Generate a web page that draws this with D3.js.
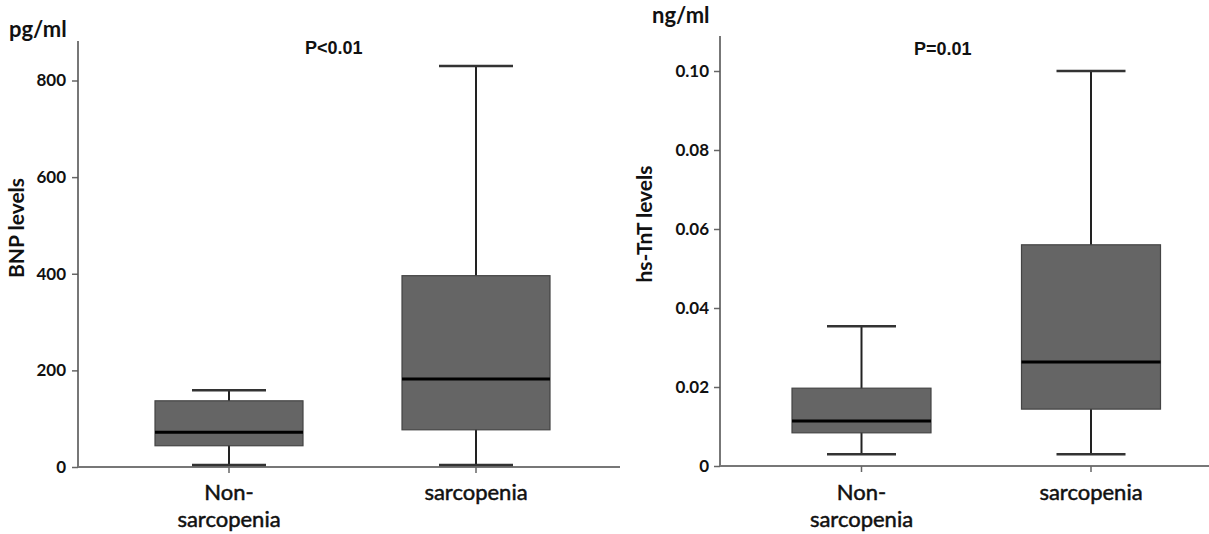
<!DOCTYPE html>
<html>
<head>
<meta charset="utf-8">
<script src="https://cdn.jsdelivr.net/npm/d3@7"></script>
<style>
  body { margin: 0; background: #fff; }
  svg { display: block; }
  .tick text { font-family: Lato, sans-serif; font-weight: bold; font-size: 17px; fill: #111; }
</style>
</head>
<body>
<svg id="chart" width="1209" height="534"></svg>
<script>
// categories shared by both panels
var categories = ["Non-sarcopenia", "sarcopenia"];

// BNP (pg/ml) box stats
var bnpMin    = [4, 4];
var bnpQ1     = [44, 77];
var bnpMedian = [72, 182];
var bnpQ3     = [137, 396];
var bnpMax    = [159, 830];
var bnpTicks  = [0, 200, 400, 600, 800];

// hs-TnT (ng/ml) box stats
var tntMin    = [0.003, 0.003];
var tntQ1     = [0.0084, 0.0144];
var tntMedian = [0.0114, 0.0263];
var tntQ3     = [0.0197, 0.056];
var tntMax    = [0.0354, 0.100];
var tntTicks  = [0, 0.02, 0.04, 0.06, 0.08, 0.10];

var svg = d3.select("#chart");

var drawPanel = function(cfg)
{
  var g = svg.append("g");

  var y = d3.scaleLinear().domain(cfg.domain).range([cfg.bottom, cfg.top]);
  var x = d3.scalePoint().domain(categories).range(cfg.centers);

  var rows = categories.map(function(c, i){
    return {cat: c, lo: cfg.min[i], q1: cfg.q1[i], med: cfg.median[i], q3: cfg.q3[i], hi: cfg.max[i]};
  });

  // y axis
  var yAxis = d3.axisLeft(y)
    .tickValues(cfg.ticks)
    .tickSize(6)
    .tickPadding(cfg.tickPad)
    .tickFormat(cfg.fmt);
  var ya = g.append("g")
    .attr("transform", "translate(" + cfg.axisX + ",0)")
    .call(yAxis);
  ya.select(".domain").remove();
  ya.selectAll(".tick line").attr("stroke", "#666").attr("stroke-width", 1.5);
  ya.append("line")
    .attr("x1", 0).attr("x2", 0)
    .attr("y1", cfg.axisTop).attr("y2", cfg.bottom)
    .attr("stroke", "#555").attr("stroke-width", 1.6);

  // x axis line and ticks
  g.append("line")
    .attr("x1", cfg.axisX).attr("x2", cfg.axisEnd)
    .attr("y1", cfg.bottom).attr("y2", cfg.bottom)
    .attr("stroke", "#777").attr("stroke-width", 2);
  g.selectAll(".xtick")
    .data(categories)
    .enter()
    .append("line")
    .attr("x1", function(d){return x(d);})
    .attr("x2", function(d){return x(d);})
    .attr("y1", cfg.bottom)
    .attr("y2", cfg.bottom + 6)
    .attr("stroke", "#666").attr("stroke-width", 1.5);

  // category labels
  var lab = g.selectAll(".xlab")
    .data(categories)
    .enter()
    .append("text")
    .attr("text-anchor", "middle")
    .attr("font-family", "Lato, sans-serif")
    .attr("font-size", 22)
    .attr("fill", "#111")
    .attr("stroke", "#111")
    .attr("stroke-width", 0.5);
  lab.each(function(d){
    var lines = d === "Non-sarcopenia" ? ["Non-", "sarcopenia"] : [d];
    var t = d3.select(this);
    lines.forEach(function(l, k){
      t.append("tspan")
        .attr("x", x(d))
        .attr("y", 500 + k * 27)
        .text(l);
    });
  });

  // whiskers
  g.selectAll(".whisk")
    .data(rows)
    .enter()
    .append("line")
    .attr("x1", function(d){return x(d.cat);})
    .attr("x2", function(d){return x(d.cat);})
    .attr("y1", function(d){return y(d.lo);})
    .attr("y2", function(d){return y(d.hi);})
    .attr("stroke", "#222").attr("stroke-width", 2);

  // caps
  ["lo", "hi"].forEach(function(k){
    g.selectAll(".cap" + k)
      .data(rows)
      .enter()
      .append("line")
      .attr("x1", function(d){return x(d.cat) - cfg.capHalf;})
      .attr("x2", function(d){return x(d.cat) + cfg.capHalf;})
      .attr("y1", function(d){return y(d[k]);})
      .attr("y2", function(d){return y(d[k]);})
      .attr("stroke", "#333").attr("stroke-width", 2.5);
  });

  // boxes
  g.selectAll(".box")
    .data(rows)
    .enter()
    .append("rect")
    .attr("x", function(d){return x(d.cat) - cfg.boxHalf;})
    .attr("y", function(d){return y(d.q3);})
    .attr("width", cfg.boxHalf * 2)
    .attr("height", function(d){return y(d.q1) - y(d.q3);})
    .attr("fill", "#656565")
    .attr("stroke", "#444").attr("stroke-width", 1.2);

  // medians
  g.selectAll(".med")
    .data(rows)
    .enter()
    .append("line")
    .attr("x1", function(d){return x(d.cat) - cfg.boxHalf;})
    .attr("x2", function(d){return x(d.cat) + cfg.boxHalf;})
    .attr("y1", function(d){return y(d.med);})
    .attr("y2", function(d){return y(d.med);})
    .attr("stroke", "#000").attr("stroke-width", 3);

  // unit label
  g.append("text")
    .attr("x", cfg.unitX).attr("y", cfg.unitY)
    .attr("font-family", "Lato, sans-serif")
    .attr("font-weight", "bold")
    .attr("font-size", 22)
    .attr("fill", "#111")
    .text(cfg.unit);

  // y title
  g.append("text")
    .attr("transform", "translate(" + cfg.titleX + "," + cfg.titleY + ") rotate(-90)")
    .attr("text-anchor", "middle")
    .attr("font-family", "Lato, sans-serif")
    .attr("font-weight", "bold")
    .attr("font-size", 21)
    .attr("fill", "#111")
    .text(cfg.title);

  // p value
  g.append("text")
    .attr("x", cfg.pX).attr("y", cfg.pY)
    .attr("font-family", "Liberation Sans, Arial, sans-serif")
    .attr("font-weight", "bold")
    .attr("font-size", 18)
    .attr("fill", "#111")
    .text(cfg.p);
}

drawPanel({
  domain: [0, 800], top: 80.5, bottom: 467, axisTop: 41,
  centers: [229, 476], axisX: 78, axisEnd: 620,
  boxHalf: 74, capHalf: 37, tickPad: 6,
  min: bnpMin, q1: bnpQ1, median: bnpMedian, q3: bnpQ3, max: bnpMax,
  ticks: bnpTicks, fmt: d3.format("d"),
  unit: "pg/ml", unitX: 9, unitY: 37,
  title: "BNP levels", titleX: 24, titleY: 228,
  p: "P<0.01", pX: 305, pY: 54
});

drawPanel({
  domain: [0, 0.1], top: 71, bottom: 466, axisTop: 36,
  centers: [861.5, 1091], axisX: 720, axisEnd: 1209,
  boxHalf: 69.5, capHalf: 34.5, tickPad: 5,
  min: tntMin, q1: tntQ1, median: tntMedian, q3: tntQ3, max: tntMax,
  ticks: tntTicks, fmt: function(d){return d === 0 ? "0" : d3.format(".2f")(d);},
  unit: "ng/ml", unitX: 652, unitY: 23,
  title: "hs-TnT levels", titleX: 652, titleY: 224,
  p: "P=0.01", pX: 914, pY: 55
});
</script>
</body>
</html>
